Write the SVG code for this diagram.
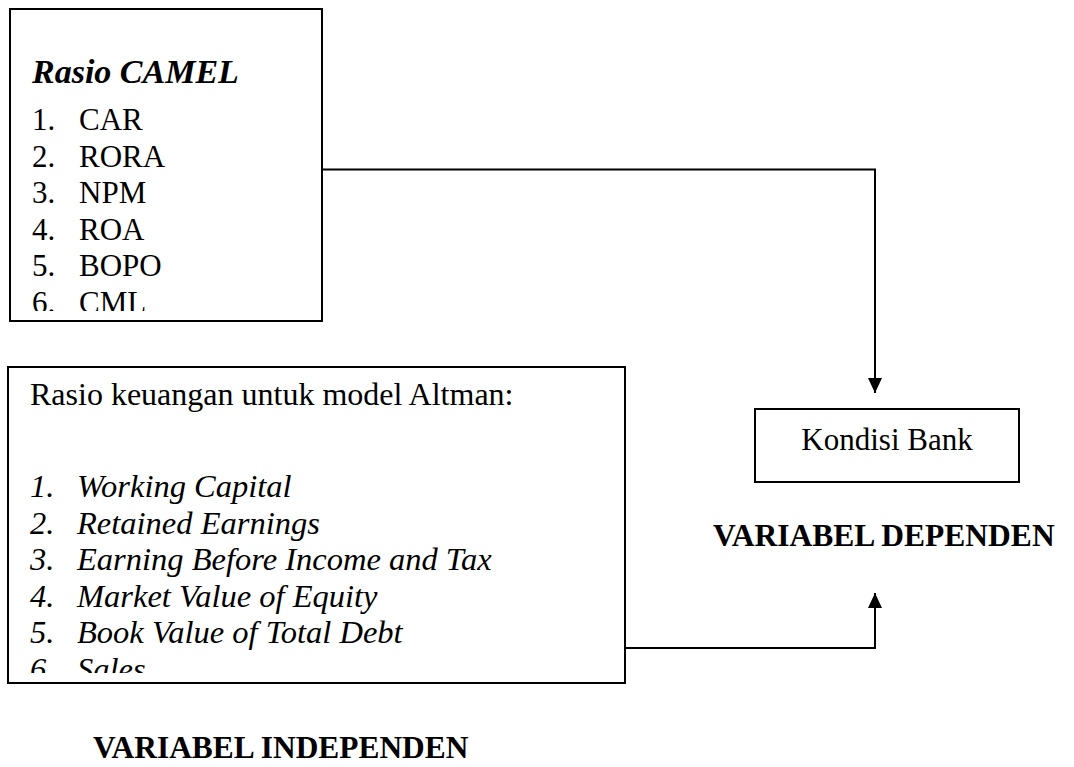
<svg xmlns="http://www.w3.org/2000/svg" width="1074" height="767" viewBox="0 0 1074 767">
<style>
.box{fill:#fff;stroke:#000;stroke-width:2}
.t{font-family:"Liberation Serif","Times New Roman",serif;fill:#000}
.n{font-size:31px}
.m{font-size:32px}
.it{font-style:italic}
.b{font-weight:bold}
.con{fill:none;stroke:#000;stroke-width:2}
</style>
<defs>
<marker id="ah" markerWidth="15" markerHeight="14" refX="15" refY="7" orient="auto" markerUnits="userSpaceOnUse">
<path d="M0,0 L15,7 L0,14 Z" fill="#000"/>
</marker>
<clipPath id="c1"><rect x="10" y="10" width="311" height="301"/></clipPath>
<clipPath id="c2"><rect x="8" y="368" width="616" height="305"/></clipPath>
</defs>
<rect width="1074" height="767" fill="#fff"/>
<g id="connectors">
<path class="con" d="M322,169.5 H875 V393" marker-end="url(#ah)"/>
<path class="con" d="M622,648 H875 V593" marker-end="url(#ah)"/>
</g>
<g id="camel">
<rect class="box" x="10" y="9" width="312" height="312"/>
<text class="t b it" x="32" y="83" font-size="34">Rasio CAMEL</text>
<g clip-path="url(#c1)" class="t n">
<text x="32" y="130">1.</text><text x="79" y="130">CAR</text>
<text x="32" y="166.5">2.</text><text x="79" y="166.5">RORA</text>
<text x="32" y="203">3.</text><text x="79" y="203">NPM</text>
<text x="32" y="239.5">4.</text><text x="79" y="239.5">ROA</text>
<text x="32" y="276">5.</text><text x="79" y="276">BOPO</text>
<text x="32" y="312.5">6.</text><text x="79" y="312.5">CML</text>
</g>
</g>
<g id="altman">
<rect class="box" x="8" y="367" width="617" height="316"/>
<text class="t m" x="30" y="405">Rasio keuangan untuk model Altman:</text>
<g clip-path="url(#c2)" class="t it" font-size="32.5">
<text x="30" y="497">1.</text><text x="77" y="497">Working Capital</text>
<text x="30" y="533.5">2.</text><text x="77" y="533.5">Retained Earnings</text>
<text x="30" y="570">3.</text><text x="77" y="570">Earning Before Income and Tax</text>
<text x="30" y="606.5">4.</text><text x="77" y="606.5">Market Value of Equity</text>
<text x="30" y="643">5.</text><text x="77" y="643">Book Value of Total Debt</text>
<text x="30" y="679.5">6.</text><text x="77" y="679.5">Sales</text>
</g>
</g>
<g id="kondisi">
<rect class="box" x="755" y="409" width="264" height="73"/>
<text class="t n" x="887" y="450" text-anchor="middle">Kondisi Bank</text>
</g>
<g id="label-dependen">
<text class="t b" x="713" y="546" font-size="31.5">VARIABEL DEPENDEN</text>
</g>
<g id="label-independen">
<text class="t b" x="93" y="758" font-size="31.4">VARIABEL INDEPENDEN</text>
</g>
</svg>
